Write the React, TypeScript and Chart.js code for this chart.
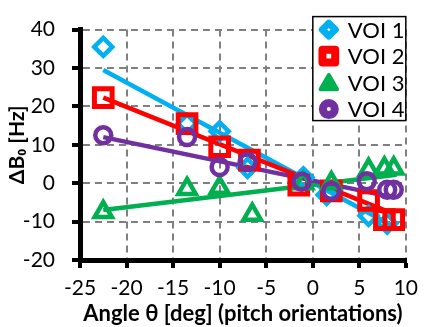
import React, { useEffect, useRef } from "react";
import { Chart, registerables } from "chart.js";
import { drawPoint } from "chart.js/helpers";

Chart.register(...registerables);

// ---- data ----
const seriesNames = ["VOI 1", "VOI 2", "VOI 3", "VOI 4"];
const seriesColors = ["#00B0F0", "#FF0000", "#00B050", "#7030A0"];
const seriesStyles = ["rectRot", "rect", "triangle", "circle"];

const voi1X = [-22.5, -13.5, -10, -7, -1, 1.5, 6, 8];
const voi1Y = [35.5, 15.5, 13.5, 4, 1.5, -3, -8.5, -10.5];
const voi2X = [-22.5, -13.5, -10, -6.8, -1.5, 2, 6, 7.7, 8.7];
const voi2Y = [22.3, 15.5, 9.5, 6, -0.5, -2, -4.5, -9.5, -9.5];
const voi3X = [-22.5, -13.5, -10, -6.5, -1, 2, 6, 7.7, 8.7];
const voi3Y = [-7.5, -1.5, -1.2, -8.2, 0, 0, 3.5, 3.8, 3.8];
const voi4X = [-22.5, -13.5, -10, -7, -1.2, 2, 5.8, 8, 8.7];
const voi4Y = [12.5, 12, 4.2, 5.5, 0.4, -2, 0.5, -1.7, -1.7];

// trend line end points
const trend1X = [-22.5, 8.5];
const trend1Y = [29.5, -11];
const trend2X = [-22.5, 8.7];
const trend2Y = [22.3, -8];
const trend3X = [-22.5, 9];
const trend3Y = [-7, 2.2];
const trend4X = [-22.5, 8.7];
const trend4Y = [12, -3.7];

const xTicks = [-25, -20, -15, -10, -5, 0, 5, 10];
const yTicks = [-20, -10, 0, 10, 20, 30, 40];

const xTitle = "Angle θ [deg] (pitch orientations)";
const yTitle = "ΔB₀ [Hz]";

const pts = (xs: number[], ys: number[]) => xs.map((x, i) => ({ x, y: ys[i] }));

const FONT = "Lato, 'Open Sans', sans-serif";

const legendPlugin = {
  id: "boxLegend",
  afterDraw(chart: any) {
    const ctx = chart.ctx as CanvasRenderingContext2D;
    const area = chart.chartArea;
    const w = 93;
    const h = 104;
    const left = area.right - w;
    const top = area.top - 13;
    ctx.save();
    ctx.fillStyle = "#ffffff";
    ctx.fillRect(left, top, w, h);
    ctx.strokeStyle = "#000000";
    ctx.lineWidth = 1.5;
    ctx.strokeRect(left, top, w, h);
    const markerCfg = [
      { radius: 6.5, borderWidth: 7, fill: "#ffffff" },
      { radius: 9, borderWidth: 8, fill: "#ffffff" },
      { radius: 9.5, borderWidth: 4, fill: seriesColors[2] },
      { radius: 6, borderWidth: 8, fill: "#ffffff" },
    ];
    seriesNames.forEach((name, i) => {
      const cy = top + 13 + i * 26.5;
      const mx = left + 16;
      const cfg = markerCfg[i];
      ctx.fillStyle = cfg.fill;
      ctx.strokeStyle = seriesColors[i];
      ctx.lineWidth = cfg.borderWidth;
      ctx.lineJoin = "round";
      const yOff = seriesStyles[i] === "triangle" ? 2 : 0;
      drawPoint(ctx, { pointStyle: seriesStyles[i] as any, radius: cfg.radius, rotation: 0, borderWidth: cfg.borderWidth }, mx, cy + yOff);
      ctx.fillStyle = "#000000";
      ctx.font = `22px ${FONT}`;
      ctx.textAlign = "left";
      ctx.textBaseline = "middle";
      ctx.fillText(name, left + 35, cy + 1);
    });
    ctx.restore();
  },
};

export default function App() {
  const ref = useRef<HTMLCanvasElement | null>(null);

  useEffect(() => {
    if (!ref.current) return;
    const scatterSets = [
      { xs: voi1X, ys: voi1Y, r: 9, bw: 4.5 },
      { xs: voi2X, ys: voi2Y, r: 12.5, bw: 5 },
      { xs: voi3X, ys: voi3Y, r: 10, bw: 4.5 },
      { xs: voi4X, ys: voi4Y, r: 8, bw: 4.5 },
    ].map((s, i) => ({
      type: "scatter" as const,
      label: seriesNames[i],
      data: pts(s.xs, s.ys),
      showLine: false,
      pointStyle: seriesStyles[i] as any,
      pointRadius: s.r,
      pointHoverRadius: s.r,
      pointBorderWidth: s.bw,
      borderColor: seriesColors[i],
      backgroundColor: "rgba(0,0,0,0)",
      order: 4 - i,
    }));
    const trendSets = [
      pts(trend1X, trend1Y),
      pts(trend2X, trend2Y),
      pts(trend3X, trend3Y),
      pts(trend4X, trend4Y),
    ].map((d, i) => ({
      type: "scatter" as const,
      label: seriesNames[i] + " trend",
      data: d,
      showLine: true,
      pointRadius: 0,
      borderWidth: 4.5,
      borderColor: seriesColors[i],
      backgroundColor: seriesColors[i],
      order: 20 - i,
    }));

    const gridOpts = {
      color: "#808080",
      lineWidth: 2,
      drawTicks: true,
      tickLength: 8,
      tickColor: "#000",
      tickWidth: 4,
    };

    const chart = new Chart(ref.current, {
      type: "scatter",
      data: { datasets: [...trendSets, ...scatterSets] as any },
      plugins: [legendPlugin],
      options: {
        animation: false,
        responsive: false,
        maintainAspectRatio: false,
        layout: { padding: { top: 19, right: 14, left: 0, bottom: 0 } },
        plugins: {
          legend: { display: false },
          tooltip: { enabled: false },
        },
        scales: {
          x: {
            type: "linear",
            min: -25,
            max: 10,
            afterBuildTicks: (s: any) => {
              s.ticks = xTicks.map((v) => ({ value: v }));
            },
            afterFit: (s: any) => {
              s.height = 67;
            },
            ticks: {
              color: "#000",
              font: { family: FONT, size: 21 },
              padding: 8,
              maxRotation: 0,
              autoSkip: false,
            },
            grid: gridOpts,
            border: { color: "#000", width: 5, dash: [7, 5] },
            title: {
              display: true,
              text: xTitle,
              color: "#000",
              font: { family: FONT, size: 22, weight: "bold" },
              padding: { top: 0, bottom: 0 },
            },
          },
          y: {
            type: "linear",
            min: -20,
            max: 40,
            afterBuildTicks: (s: any) => {
              s.ticks = yTicks.map((v) => ({ value: v }));
            },
            afterFit: (s: any) => {
              s.width = 80;
            },
            ticks: {
              color: "#000",
              font: { family: FONT, size: 21 },
              padding: 17,
              autoSkip: false,
            },
            grid: gridOpts,
            border: { color: "#000", width: 5, dash: [7, 5] },
            title: {
              display: true,
              text: yTitle,
              color: "#000",
              font: { family: FONT, size: 21, weight: "bold" },
              padding: { top: 5, bottom: 0 },
            },
          },
        },
      } as any,
    });
    return () => chart.destroy();
  }, []);

  return (
    <div style={{ position: "fixed", left: 0, top: 0, width: 426, height: 327, background: "#fff" }}>
      <canvas ref={ref} width={426} height={327} style={{ width: 426, height: 327 }} />
    </div>
  );
}
